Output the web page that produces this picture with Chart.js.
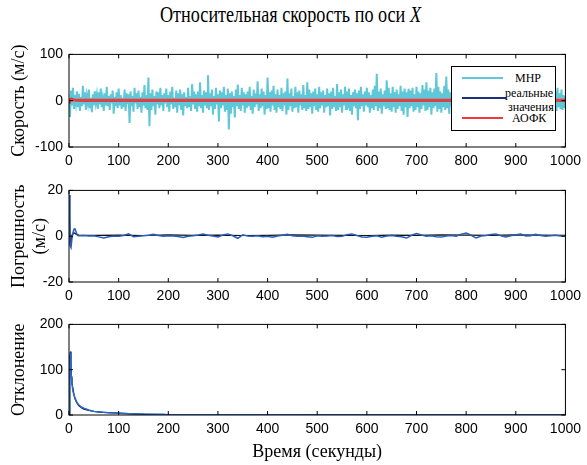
<!DOCTYPE html>
<html>
<head>
<meta charset="utf-8">
<script src="https://cdn.jsdelivr.net/npm/chart.js@4"></script>
<style>
  body { margin: 0; background: #fff; width: 587px; height: 465px; position: relative; overflow: hidden; }
  canvas { position: absolute; left: 0; }
  #title { position: absolute; top: 2px; left: -3px; width: 587px; text-align: center; font: 23px 'Liberation Serif'; color: #000; transform: scaleX(0.79); }
  #legend { position: absolute; left: 451px; top: 66px; width: 103px; height: 63px; border: 1px solid #000; background: #fff; font: 12px 'Liberation Serif'; color: #000; }
  #legend .ln { position: absolute; left: 10px; width: 41px; height: 2px; }
  #legend span { position: absolute; line-height: 12px; white-space: nowrap; }
</style>
</head>
<body>
<div id="title">Относительная скорость по оси <i>X</i></div>
<canvas id="c1" width="587" height="135" style="top:40px"></canvas>
<canvas id="c2" width="587" height="134" style="top:176px"></canvas>
<canvas id="c3" width="587" height="155" style="top:310px"></canvas>
<div id="legend">
  <div class="ln" style="top:10px;background:#5ec8d8"></div><span style="left:63px;top:5px">МНР</span>
  <div class="ln" style="top:30px;width:44px;background:#1c2f7a"></div><span style="left:53px;top:20px">реальные</span>
  <span style="left:56px;top:34px">значения</span>
  <div class="ln" style="top:50px;background:#f03a3a"></div><span style="left:60px;top:45px">АОФК</span>
</div>
<script>
// --- data ---
// МНР, sampled every 2 s from 0 to 1000
const mnrStep = 2;
const mnrValues = [
  5, -35, 22, -10, 28, -18, 12, -6, 20, -14,
  15, -22, 8, -12, 32, -8, 18, -20, 10, -5,
  24, -16, 6, -25, 14, -10, 20, -4, 12, -18,
  18, -8, 26, -14, 4, -22, 16, -10, 30, -12,
  10, -20, 14, -6, 22, -28, 8, -12, 18, -16,
  26, -10, 12, -18, 6, -14, 24, -22, 16, -8,
  14, -48, 20, -12, 10, -24, 28, -6, 16, -18,
  22, -14, 8, -26, 18, -10, 34, -16, 12, -20,
  50, -55, 16, -20, 24, -12, 10, -30, 20, -8,
  18, -16, 28, -10, 12, -22, 16, -6, 26, -14,
  12, -24, 20, -8, 30, -18, 6, -14, 22, -26,
  16, -10, 24, -20, 14, -32, 18, -12, 8, -16,
  28, -14, 10, -22, 36, -8, 20, -18, 14, -24,
  20, -12, 40, -16, 12, -26, 22, -10, 18, -14,
  55, -20, 16, -12, 24, -30, 10, -18, 28, -8,
  14, -45, 22, -16, 18, -10, 30, -24, 12, -20,
  26, -62, 16, -28, 20, -14, 10, -36, 24, -12,
  35, -18, 12, -22, 28, -10, 18, -26, 14, -16,
  20, -12, 30, -20, 10, -28, 24, -14, 16, -8,
  42, -22, 14, -16, 26, -12, 20, -30, 12, -18,
  50, -16, 18, -24, 22, -10, 32, -20, 14, -26,
  24, -14, 12, -18, 28, -22, 16, -10, 20, -30,
  48, -20, 16, -12, 26, -24, 10, -16, 30, -14,
  18, -26, 22, -10, 14, -20, 34, -16, 12, -22,
  40, -18, 24, -14, 16, -28, 20, -12, 26, -20,
  14, -24, 30, -16, 18, -10, 22, -26, 12, -14,
  26, -12, 16, -32, 20, -18, 28, -14, 10, -22,
  36, -20, 18, -14, 24, -26, 14, -10, 30, -18,
  20, -16, 26, -22, 12, -30, 18, -12, 24, -16,
  16, -42, 22, -18, 30, -12, 14, -24, 20, -10,
  28, -14, 18, -26, 12, -16, 24, -20, 32, -12,
  58, -22, 20, -16, 26, -28, 14, -12, 22, -18,
  44, -16, 28, -20, 16, -24, 30, -14, 18, -26,
  24, -18, 14, -12, 32, -22, 20, -30, 26, -14,
  18, -35, 26, -16, 22, -12, 28, -24, 14, -20,
  30, -14, 20, -26, 16, -18, 34, -10, 24, -22,
  40, -20, 22, -14, 28, -30, 18, -16, 26, -12,
  60, -24, 30, -18, 20, -26, 16, -14, 32, -20,
  52, -16, 24, -28, 18, -12, 30, -22, 14, -18,
  26, -20, 16, -24, 36, -14, 22, -30, 20, -16,
  40, -18, 26, -14, 20, -28, 30, -16, 24, -22,
  22, -26, 32, -12, 18, -20, 28, -24, 16, -14,
  30, -30, 20, -18, 24, -16, 14, -26, 34, -12,
  18, -22, 26, -14, 30, -28, 20, -16, 22, -20,
  45, -16, 24, -22, 18, -30, 28, -12, 20, -24,
  26, -18, 34, -14, 16, -26, 22, -20, 30, -16,
  20, -24, 18, -12, 28, -22, 24, -30, 16, -18,
  38, -20, 26, -16, 22, -28, 30, -14, 18, -22,
  24, -16, 30, -24, 14, -20, 26, -12, 32, -26,
  20, -22, 28, -14, 16, -18, 24, -20, 12, -16,
  10
];
// реальные значения (speed)
const realTimes  = [0, 2, 5, 10, 15, 30, 100, 200, 300, 400, 500, 600, 700, 800, 900, 1000];
const realValues = [-4, 3, 5, 2, 0.5, 0, 0, 0, 0, 0, 0, 0, 0, 0, 0, 0];
// АОФК estimate
const aofkTimes  = [0, 3, 6, 10, 20, 50, 100, 200, 300, 400, 500, 600, 700, 800, 900, 1000];
const aofkValues = [-6, 2, 3, 1.5, 1, 1, 1, 1, 1, 1, 1, 1, 1, 1, 1, 1];

// Погрешность
const errBlackTimes  = [0, 3, 6, 10, 15, 20, 50, 100, 150, 200, 250, 300, 350, 400, 450, 500, 550, 600, 650, 700, 750, 800, 850, 900, 950, 1000];
const errBlackValues = [14, -4, 0.5, 1.5, 0.8, 0.5, 0.4, 0.5, 0.3, 0.6, 0.4, 0.5, 0.3, 0.4, 0.6, 0.5, 0.4, 0.3, 0.5, 0.4, 0.6, 0.5, 0.4, 0.6, 0.5, 0.4];
const errBlueTimes = [0, 2, 4, 6, 8, 10, 12, 14, 16, 18, 20,
  30, 40, 50, 60, 70, 80, 90, 100, 110, 120, 130, 140, 150, 160, 170, 180, 190, 200,
  210, 220, 230, 240, 250, 260, 270, 280, 290, 300, 310, 320, 330, 340, 350, 360, 370, 380, 390, 400,
  410, 420, 430, 440, 450, 460, 470, 480, 490, 500, 510, 520, 530, 540, 550, 560, 570, 580, 590, 600,
  610, 620, 630, 640, 650, 660, 670, 680, 690, 700, 710, 720, 730, 740, 750, 760, 770, 780, 790, 800,
  810, 820, 830, 840, 850, 860, 870, 880, 890, 900, 910, 920, 930, 940, 950, 960, 970, 980, 990, 1000];
const errBlueValues = [18, -4, -5, -1, 1.5, 3, 3.2, 2, 0.8, 0.3, 0.2,
  0.3, 0.1, 0.2, -0.3, -0.8, -0.2, 0.1, 0, 0.3, 1.0, -0.2, 0, 0.2, 0.4, 0.8, 0.3, 0, 0.2,
  0.1, -0.1, -0.6, 0, 0.2, 0.5, 1.0, 0.4, 0.1, -0.3, 0.5, 1.0, 0.2, -0.9, 0.6, 0.1, 0, 0.2, -0.2, 0,
  -0.4, 0.1, 0.4, 0.8, 0.2, 0, 0.1, -0.2, -0.5, 0.2, 0, 0.1, 0.3, -0.1, 0, 0.6, 1.0, 0.3, -0.3, -0.5,
  0, 0.2, -0.4, 0.1, 0.3, 0, -0.2, -0.8, 0.4, 1.2, 0.5, 0, 0.2, -0.2, -0.4, 0.1, 0.3, 0, 0.9, 1.4,
  0.4, -0.8, 0.1, 0.3, 0.7, 1.0, 0.2, -0.3, 0.2, 0.6, 1.0, 0.1, 0.2, 0.8, 0.3, 0, 0.2, 0.4, 0.1, 0.2];

// Отклонение
const devBlackTimes  = [0, 1, 2, 3, 4, 5, 6, 8, 10, 12, 15, 20, 25, 30, 40, 50, 60, 70, 80, 90, 100, 110, 120, 130, 150, 200, 300, 500, 1000];
const devBlackValues = [0, 60, 130, 140, 110, 85, 70, 58, 45, 36, 28, 20, 16, 13, 10, 8, 6.5, 5.5, 5, 4.5, 4, 3.5, 3, 2.5, 1.5, 0.8, 0.4, 0.2, 0.1];
const devBlueTimes   = [0, 1, 2, 3, 4, 5, 6, 8, 10, 12, 15, 18, 22, 26, 30, 40, 50, 60, 70, 80, 100, 120, 150, 190, 200, 300, 500, 1000];
const devBlueValues  = [0, 40, 100, 138, 95, 80, 68, 52, 44, 38, 30, 25, 20, 17, 15, 11, 8, 7, 6, 5, 4, 3, 2, 1.5, 0.8, 0.4, 0.2, 0.1];

// --- helpers ---
const pts = (times, vals) => times.map((t, i) => ({ x: t, y: vals[i] }));
const mnrPoints = mnrValues.map((v, i) => ({ x: i * mnrStep, y: v }));

const framePlugin = {
  id: 'frame',
  afterDatasetsDraw(chart) {
    const { ctx, chartArea: a, scales: { x, y } } = chart;
    ctx.save();
    ctx.strokeStyle = '#000';
    ctx.lineWidth = 1;
    ctx.strokeRect(a.left, a.top, a.right - a.left, a.bottom - a.top);
    ctx.beginPath();
    x.ticks.forEach(t => {
      const px = x.getPixelForValue(t.value);
      ctx.moveTo(px, a.top); ctx.lineTo(px, a.top + 4);
      ctx.moveTo(px, a.bottom); ctx.lineTo(px, a.bottom - 4);
    });
    y.ticks.forEach(t => {
      const py = y.getPixelForValue(t.value);
      ctx.moveTo(a.left, py); ctx.lineTo(a.left + 4, py);
      ctx.moveTo(a.right, py); ctx.lineTo(a.right - 4, py);
    });
    ctx.stroke();
    ctx.restore();
  }
};

const tickFont = { family: "'Liberation Sans', Arial", size: 14 };
const titleFont = { family: "'Liberation Serif', 'Times New Roman'", size: 18 };

// first dataset in the list is drawn on top
function makeChart(id, datasets, yMin, yMax, yStep, yTitle, padTop, xHeight, xTitle) {
  return new Chart(document.getElementById(id), {
    type: 'line',
    data: { datasets: datasets },
    options: {
      responsive: false,
      animation: false,
      devicePixelRatio: 1,
      layout: { padding: { top: padTop, right: 18, left: 0, bottom: 0 } },
      plugins: { legend: { display: false }, tooltip: { enabled: false } },
      elements: { point: { radius: 0 }, line: { tension: 0 } },
      scales: {
        x: {
          type: 'linear', min: 0, max: 1000,
          grid: { display: false, drawTicks: false },
          border: { display: false },
          ticks: { stepSize: 100, color: '#000', font: tickFont, padding: 6, maxRotation: 0, callback: v => String(v) },
          title: xTitle ? { display: true, text: xTitle, color: '#000', font: titleFont, padding: { top: 0, bottom: 2 } } : { display: false },
          afterFit: s => { s.height = xHeight; }
        },
        y: {
          min: yMin, max: yMax,
          grid: { display: false, drawTicks: false },
          border: { display: false },
          ticks: { stepSize: yStep, color: '#000', font: tickFont, padding: 6, callback: v => String(v) },
          title: { display: true, text: yTitle, color: '#000', font: titleFont, padding: { top: 8, bottom: 0 } },
          afterFit: s => { s.width = 69; }
        }
      }
    },
    plugins: [framePlugin]
  });
}

makeChart('c1', [
  { data: pts(aofkTimes, aofkValues), borderColor: '#f03a3a', borderWidth: 3 },
  { data: pts(realTimes, realValues), borderColor: '#1c2f7a', borderWidth: 1.5 },
  { data: mnrPoints, borderColor: '#5ec8d8', borderWidth: 2 }
], -100, 100, 100, 'Скорость (м/с)', 13, 28, null);

makeChart('c2', [
  { data: pts(errBlueTimes, errBlueValues), borderColor: '#2a5db8', borderWidth: 1.5 },
  { data: pts(errBlackTimes, errBlackValues), borderColor: '#111', borderWidth: 1.2 }
], -20, 20, 20, ['Погрешность', '(м/с)'], 13, 28, null);

makeChart('c3', [
  { data: pts(devBlueTimes, devBlueValues), borderColor: '#2a6ad0', borderWidth: 1.5 },
  { data: pts(devBlackTimes, devBlackValues), borderColor: '#111', borderWidth: 1.2 }
], 0, 200, 100, 'Отклонение', 11, 50, 'Время (секунды)');
</script>
</body>
</html>
